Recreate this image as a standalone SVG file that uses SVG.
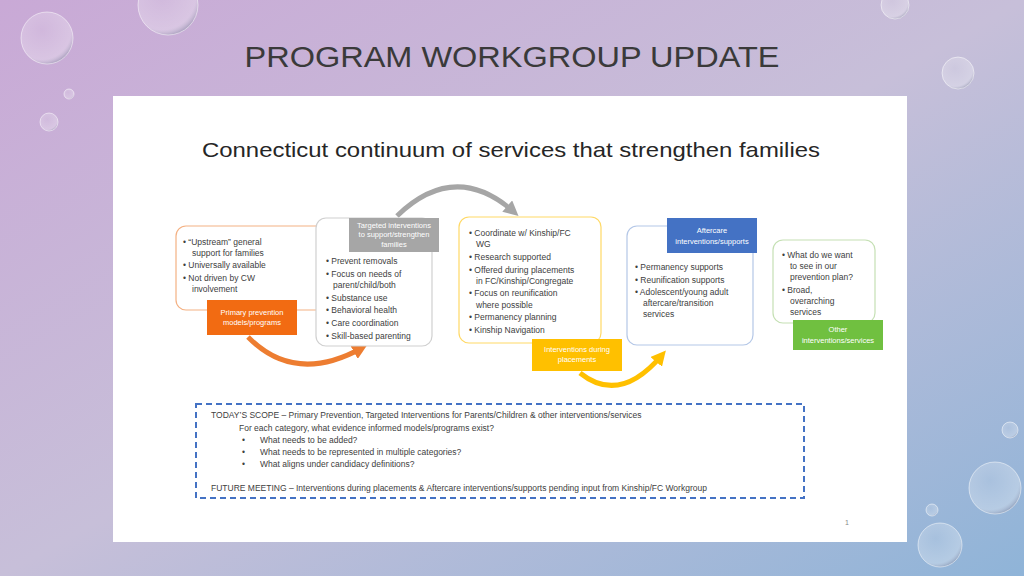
<svg xmlns="http://www.w3.org/2000/svg" width="1024" height="576" viewBox="0 0 1024 576">
<defs>
<linearGradient id="bg" x1="0" y1="0" x2="1" y2="1">
<stop offset="0" stop-color="#c9a9d6"/><stop offset="0.5" stop-color="#c7bfd9"/><stop offset="1" stop-color="#8fb4d8"/>
</linearGradient>
<radialGradient id="drop" cx="0.4" cy="0.35" r="0.7">
<stop offset="0" stop-color="#ffffff" stop-opacity="0.15"/><stop offset="0.8" stop-color="#ffffff" stop-opacity="0.3"/><stop offset="1" stop-color="#7a7f99" stop-opacity="0.6"/>
</radialGradient>
<marker id="ag" viewBox="0 0 10 10" refX="6" refY="5" markerWidth="3" markerHeight="3" orient="auto"><path d="M0,0L10,5L0,10z" fill="#a6a6a6"/></marker>
<marker id="ao" viewBox="0 0 10 10" refX="6" refY="5" markerWidth="3" markerHeight="3" orient="auto"><path d="M0,0L10,5L0,10z" fill="#ed7d31"/></marker>
<marker id="ay" viewBox="0 0 10 10" refX="6" refY="5" markerWidth="3" markerHeight="3" orient="auto"><path d="M0,0L10,5L0,10z" fill="#ffc000"/></marker>
<style>
.t{font-family:"Liberation Sans",Arial,sans-serif;font-size:8.5px;fill:#404040}
.l{font-family:"Liberation Sans",Arial,sans-serif;font-size:7.5px;fill:#fff;text-anchor:middle}
.s{font-family:"Liberation Sans",Arial,sans-serif;font-size:8.5px;fill:#404040}
.box{fill:#fff;stroke-width:1.2}
</style>
</defs>
<rect width="1024" height="576" fill="url(#bg)"/>
<g fill="url(#drop)" stroke="#ffffff" stroke-opacity="0.5">
<circle cx="168" cy="5" r="30"/><circle cx="47" cy="38" r="26"/><circle cx="69" cy="94" r="5"/><circle cx="49" cy="122" r="9"/>
<circle cx="958" cy="73" r="16"/><circle cx="895" cy="5" r="14"/><circle cx="995" cy="488" r="26"/><circle cx="940" cy="545" r="22"/><circle cx="1010" cy="430" r="8"/><circle cx="932" cy="510" r="6"/>
</g>
<text x="512" y="67" text-anchor="middle" font-family="'Liberation Sans',Arial,sans-serif" font-size="29" fill="#3a3a3a" textLength="535" lengthAdjust="spacingAndGlyphs">PROGRAM WORKGROUP UPDATE</text>
<rect x="113" y="96" width="794" height="446" fill="#fff"/>
<text x="511" y="157" text-anchor="middle" font-family="'Liberation Sans',Arial,sans-serif" font-size="21" fill="#262626" textLength="618" lengthAdjust="spacingAndGlyphs">Connecticut continuum of services that strengthen families</text>
<g id="connectors" fill="none" stroke-width="5">
<path d="M397,216 Q455,160 514,212" stroke="#a6a6a6" marker-end="url(#ag)"/>
<path d="M248,337 Q295,385 362,348" stroke="#ed7d31" marker-end="url(#ao)"/>
<path d="M580,373 Q620,405 662,355" stroke="#ffc000" marker-end="url(#ay)"/>
</g>
<g id="n1">
<rect class="box" x="176" y="226" width="174" height="84" rx="10" stroke="#f4b183"/>
<text class="t"><tspan x="183" y="245">• “Upstream” general</tspan><tspan x="192" y="256">support for families</tspan><tspan x="183" y="268">• Universally available</tspan><tspan x="183" y="281">• Not driven by CW</tspan><tspan x="192" y="292">involvement</tspan></text>
<rect x="207" y="300" width="90" height="35" fill="#f26b12"/>
<text class="l"><tspan x="252" y="315">Primary prevention</tspan><tspan x="252" y="325">models/programs</tspan></text>
</g>
<g id="n2">
<rect class="box" x="316" y="218" width="116" height="128" rx="10" stroke="#d0d0d0"/>
<rect x="349" y="218" width="90" height="34" fill="#a6a6a6"/>
<text class="l"><tspan x="394" y="228">Targeted interventions</tspan><tspan x="394" y="237">to support/strengthen</tspan><tspan x="394" y="247">families</tspan></text>
<text class="t"><tspan x="326" y="264">• Prevent removals</tspan><tspan x="326" y="277">• Focus on needs of</tspan><tspan x="333" y="288">parent/child/both</tspan><tspan x="326" y="301">• Substance use</tspan><tspan x="326" y="313">• Behavioral health</tspan><tspan x="326" y="326">• Care coordination</tspan><tspan x="326" y="339">• Skill-based parenting</tspan></text>
</g>
<g id="n3">
<rect class="box" x="459" y="217" width="142" height="126" rx="10" stroke="#ffd966"/>
<text class="t"><tspan x="469" y="236">• Coordinate w/ Kinship/FC</tspan><tspan x="476" y="247">WG</tspan><tspan x="469" y="260">• Research supported</tspan><tspan x="469" y="273">• Offered during placements</tspan><tspan x="476" y="284">in FC/Kinship/Congregate</tspan><tspan x="469" y="296">• Focus on reunification</tspan><tspan x="476" y="308">where possible</tspan><tspan x="469" y="320">• Permanency planning</tspan><tspan x="469" y="333">• Kinship Navigation</tspan></text>
<rect x="532" y="339" width="90" height="32" fill="#ffc000"/>
<text class="l"><tspan x="577" y="352">Interventions during</tspan><tspan x="577" y="362">placements</tspan></text>
</g>
<g id="n4">
<rect class="box" x="627" y="226" width="126" height="119" rx="10" stroke="#b4c7e7"/>
<rect x="667" y="218" width="90" height="35" fill="#4472c4"/>
<text class="l"><tspan x="712" y="233">Aftercare</tspan><tspan x="712" y="244">interventions/supports</tspan></text>
<text class="t"><tspan x="635" y="270">• Permanency supports</tspan><tspan x="635" y="283">• Reunification supports</tspan><tspan x="635" y="295">• Adolescent/young adult</tspan><tspan x="643" y="306">aftercare/transition</tspan><tspan x="643" y="317">services</tspan></text>
</g>
<g id="n5">
<rect class="box" x="773" y="240" width="102" height="83" rx="10" stroke="#c5e0b4"/>
<text class="t"><tspan x="782" y="258">• What do we want</tspan><tspan x="790" y="269">to see in our</tspan><tspan x="790" y="280">prevention plan?</tspan><tspan x="782" y="293">• Broad,</tspan><tspan x="790" y="304">overarching</tspan><tspan x="790" y="315">services</tspan></text>
<rect x="793" y="320" width="90" height="30" fill="#70c040"/>
<text class="l"><tspan x="838" y="332">Other</tspan><tspan x="838" y="343">interventions/services</tspan></text>
</g>
<g id="scope">
<rect x="196" y="404" width="608" height="94" fill="none" stroke="#4472c4" stroke-width="2" stroke-dasharray="6,4"/>
<text class="s"><tspan x="211" y="418">TODAY’S SCOPE – Primary Prevention, Targeted Interventions for Parents/Children &amp; other interventions/services</tspan><tspan x="239" y="431">For each category, what evidence informed models/programs exist?</tspan><tspan x="242" y="443">•</tspan><tspan x="260" y="443">What needs to be added?</tspan><tspan x="242" y="455">•</tspan><tspan x="260" y="455">What needs to be represented in multiple categories?</tspan><tspan x="242" y="467">•</tspan><tspan x="260" y="467">What aligns under candidacy definitions?</tspan><tspan x="211" y="491">FUTURE MEETING – Interventions during placements &amp; Aftercare interventions/supports pending input from Kinship/FC Workgroup</tspan></text>
</g>
<text x="845" y="525" font-family="'Liberation Sans',Arial,sans-serif" font-size="7" fill="#888">1</text>
</svg>
